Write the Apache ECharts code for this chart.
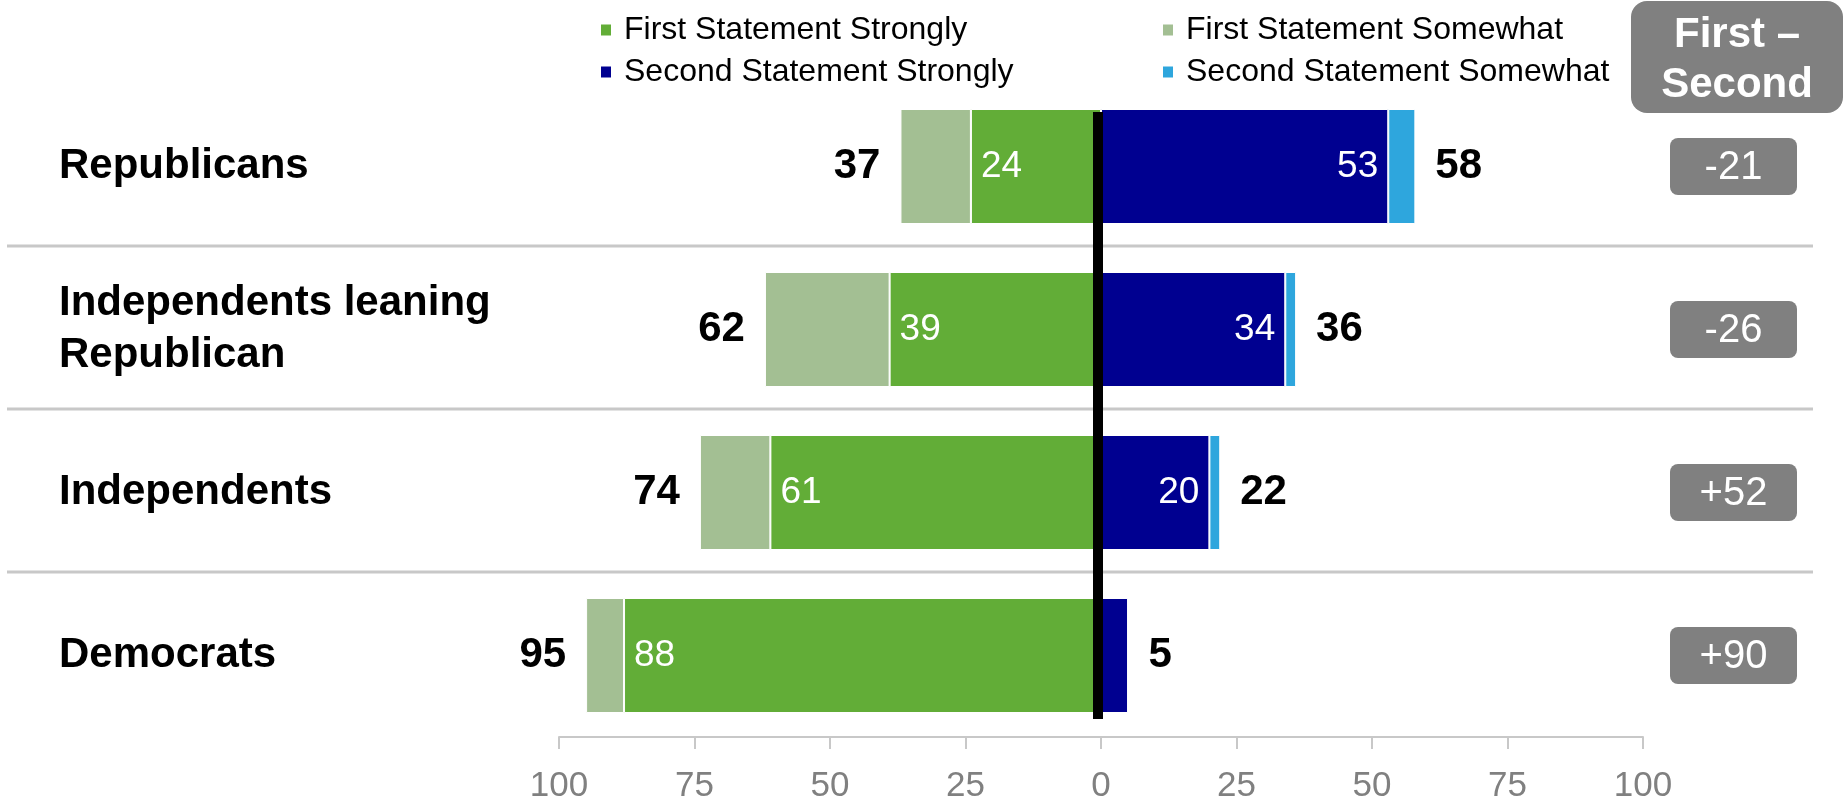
<!DOCTYPE html>
<html><head><meta charset="utf-8">
<script src="https://cdn.jsdelivr.net/npm/echarts@6/dist/echarts.min.js"></script>
<style>html,body{margin:0;padding:0;background:#fff}#c{width:1845px;height:807px}</style>
</head><body><div id="c"></div>
<script>
const categories = ['Republicans', 'Independents leaning\nRepublican', 'Independents', 'Democrats'];
const firstStrongly = [24, 39, 61, 88];
const firstSomewhat = [13, 23, 13, 7];
const secondStrongly = [53, 34, 20, 5];
const secondSomewhat = [5, 2, 2, 0];
const diffHeader = 'First –\nSecond';
const diffLabels = ['-21', '-26', '+52', '+90'];

const FONT = '"Liberation Sans", Arial, sans-serif';
const GREEN = '#62AD37', LGREEN = '#A3BF93', NAVY = '#000090', LBLUE = '#2EA6DD';
const firstTotal = firstStrongly.map((v, i) => v + firstSomewhat[i]);
const secondTotal = secondStrongly.map((v, i) => v + secondSomewhat[i]);

const chart = echarts.init(document.getElementById('c'), null, {renderer: 'canvas'});
const BARW = 115;
const innerLabel = (pos) => ({show: true, position: pos, distance: 10, color: '#fff', fontSize: 37, fontFamily: FONT,
  formatter: p => Math.abs(p.value) >= 10 ? String(Math.abs(p.value)) : ''});
const outerLabel = (pos, totals) => ({show: true, position: pos, distance: 20, color: '#000', fontSize: 42, fontWeight: 'bold', fontFamily: FONT,
  formatter: p => String(totals[p.dataIndex])});
const legendBase = {orient: 'vertical', top: 9, itemWidth: 12, itemHeight: 13, itemGap: 10, icon: 'rect', selectedMode: false,
  textStyle: {fontSize: 32, color: '#000', fontFamily: FONT, lineHeight: 30, padding: [0, 0, 0, 7]}};

chart.setOption({
  animation: false,
  textStyle: {fontFamily: FONT},
  legend: [
    Object.assign({}, legendBase, {left: 594, data: ['First Statement Strongly', 'Second Statement Strongly']}),
    Object.assign({}, legendBase, {left: 1156, data: ['First Statement Somewhat', 'Second Statement Somewhat']})
  ],
  grid: {left: 559, right: 202, top: 85, height: 652, containLabel: false},
  xAxis: {type: 'value', min: -100, max: 100, interval: 25,
    axisLine: {show: true, lineStyle: {color: '#C8C8C8', width: 2}},
    axisTick: {show: true, length: 12, lineStyle: {color: '#C8C8C8', width: 2}},
    splitLine: {show: false},
    axisLabel: {formatter: v => String(Math.abs(v)), fontSize: 35, color: '#808080', margin: 32, fontFamily: FONT}},
  yAxis: {type: 'category', data: categories, inverse: true,
    axisLine: {show: false}, axisTick: {show: false}, splitLine: {show: false},
    axisLabel: {align: 'left', margin: 500, fontSize: 42, fontWeight: 'bold', color: '#000', lineHeight: 52, fontFamily: FONT, padding: [10, 0, 0, 0]}},
  series: [
    {name: 'First Statement Strongly', type: 'bar', stack: 'all', barWidth: BARW, data: firstStrongly.map(v => -v),
      itemStyle: {color: GREEN, borderColor: '#fff', borderWidth: 1}, label: innerLabel('insideLeft')},
    {name: 'First Statement Somewhat', type: 'bar', stack: 'all', barWidth: BARW, data: firstSomewhat.map(v => -v),
      itemStyle: {color: LGREEN, borderColor: '#fff', borderWidth: 1}, label: outerLabel('left', firstTotal)},
    {name: 'Second Statement Strongly', type: 'bar', stack: 'all', barWidth: BARW, data: secondStrongly,
      itemStyle: {color: NAVY, borderColor: '#fff', borderWidth: 1}, label: innerLabel('insideRight')},
    {name: 'Second Statement Somewhat', type: 'bar', stack: 'all', barWidth: BARW, data: secondSomewhat,
      itemStyle: {color: LBLUE, borderColor: '#fff', borderWidth: 1}, label: outerLabel('right', secondTotal)}
  ]
});

const x0 = chart.convertToPixel({gridIndex: 0}, [0, 0])[0];
const ys = categories.map((c, i) => chart.convertToPixel({gridIndex: 0}, [0, i])[1]);
const graphics = [];
for (let i = 0; i < ys.length - 1; i++) {
  const ym = (ys[i] + ys[i + 1]) / 2 - 2;
  graphics.push({type: 'line', z: 1, shape: {x1: 7, y1: ym, x2: 1813, y2: ym}, style: {stroke: '#C8C8C8', lineWidth: 3}});
}
graphics.push({type: 'line', z: 100, shape: {x1: x0 - 3, y1: ys[0] - BARW / 2 + 3, x2: x0 - 3, y2: ys[ys.length - 1] + BARW / 2 + 6},
  style: {stroke: '#000', lineWidth: 10}});
const mkText = (txt, cx, cy, size, weight, lh) => ({type: 'text', z: 30, x: cx, y: cy,
  style: {text: txt, fill: '#fff', fontSize: size, fontWeight: weight, fontFamily: FONT, lineHeight: lh,
    align: 'center', verticalAlign: 'middle', textAlign: 'center', textVerticalAlign: 'middle'}});
graphics.push({type: 'rect', z: 10, shape: {x: 1631, y: 1, width: 212, height: 112, r: 16}, style: {fill: '#808080'}});
graphics.push(mkText(diffHeader, 1737, 60, 42, 'bold', 50));
diffLabels.forEach((d, i) => {
  graphics.push({type: 'rect', z: 10, shape: {x: 1670, y: ys[i] - 28.5, width: 127, height: 57, r: 8}, style: {fill: '#808080'}});
  graphics.push(mkText(d, 1733.5, ys[i] + 1, 40, 'normal', 44));
});
chart.setOption({graphic: graphics});
</script></body></html>
